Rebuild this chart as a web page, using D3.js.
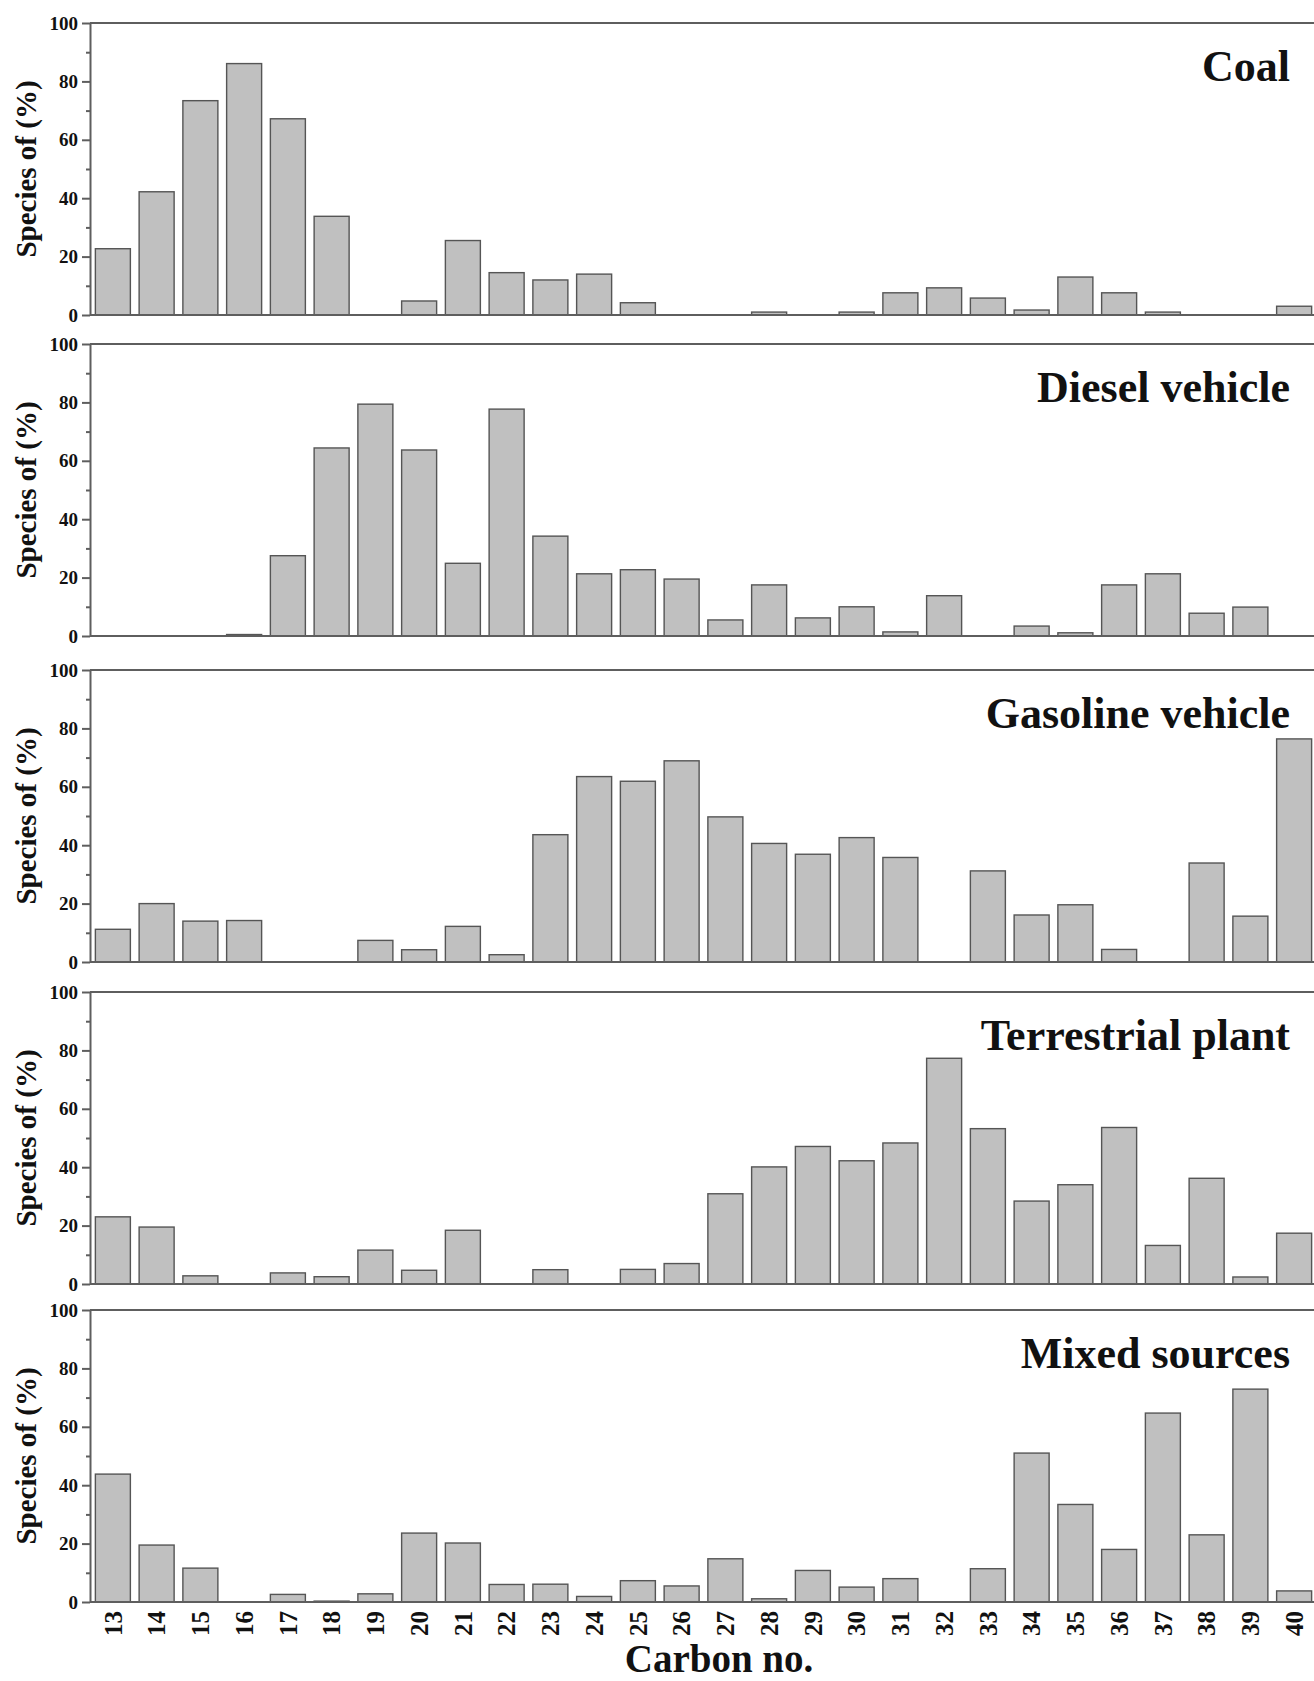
<!DOCTYPE html>
<html>
<head>
<meta charset="utf-8">
<script src="https://cdn.jsdelivr.net/npm/d3@7"></script>
<style>
  body { margin: 0; background: #fff; }
  svg text { font-family: "Liberation Serif", "Times New Roman", serif; font-weight: bold; fill: #111; }
</style>
</head>
<body>
<svg width="1314" height="1681"></svg>
<script>
const carbons = ['13', '14', '15', '16', '17', '18', '19', '20', '21', '22', '23', '24', '25', '26',
    '27', '28', '29', '30', '31', '32', '33', '34', '35', '36', '37', '38', '39', '40'];

const sources = ['Coal', 'Diesel vehicle', 'Gasoline vehicle', 'Terrestrial plant', 'Mixed sources'];

const coal = [22.7, 42.2, 73.4, 86.1, 67.2, 33.8, 0, 4.8, 25.5, 14.5, 12.0, 14.0, 4.2, 0,
    0, 1.0, 0, 1.0, 7.6, 9.3, 5.8, 1.7, 13.0, 7.6, 1.0, 0, 0, 3.0];
const diesel = [0, 0, 0, 0.5, 27.5, 64.4, 79.4, 63.7, 24.9, 77.7, 34.2, 21.3, 22.7, 19.5,
    5.5, 17.5, 6.2, 10.0, 1.4, 13.8, 0, 3.4, 1.1, 17.5, 21.3, 7.8, 9.9, 0];
const gasoline = [11.2, 20.0, 14.0, 14.2, 0, 0, 7.4, 4.2, 12.2, 2.5, 43.6, 63.5, 61.9, 68.9,
    49.7, 40.6, 36.9, 42.6, 35.8, 0, 31.2, 16.1, 19.6, 4.3, 0, 33.9, 15.7, 76.4];
const terrestrial = [23.0, 19.5, 2.8, 0, 3.8, 2.5, 11.6, 4.7, 18.4, 0, 4.9, 0, 5.0, 7.0,
    30.9, 40.1, 47.1, 42.2, 48.3, 77.3, 53.2, 28.4, 34.0, 53.6, 13.2, 36.2, 2.4, 17.4];
const mixed = [43.8, 19.5, 11.6, 0, 2.6, 0.3, 2.8, 23.6, 20.2, 6.0, 6.1, 1.9, 7.3, 5.5,
    14.8, 1.1, 10.8, 5.1, 8.0, 0, 11.4, 51.0, 33.4, 18.0, 64.7, 23.0, 72.9, 3.8];

const seriesValues = [coal, diesel, gasoline, terrestrial, mixed];

const yTicks = [0, 20, 40, 60, 80, 100];
const yMinorTicks = [10, 30, 50, 70, 90];

const width = 1314;
const left = 90;
const panelTops = [23, 344, 670, 992, 1310];
const panelHeight = 292;
const axisColor = '#5e5e5e';

const svg = d3.select('body svg');

const x = d3.scaleBand()
    .domain(carbons)
    .range([left + 1, 1316])
    .paddingInner(0.2)
    .paddingOuter(0.1);

const y = d3.scaleLinear()
    .domain([0, 100])
    .range([panelHeight, 0]);

sources.forEach(function(name, i) {
    const g = svg.append('g')
        .attr('transform', `translate(0, ${panelTops[i]})`);

    const data = carbons.map(function(c, j) { return { c: c, v: seriesValues[i][j] }; })
        .filter(function(d) { return d.v > 0; });

    g.selectAll('rect.bar')
        .data(data)
        .enter().append('rect')
        .attr('class', 'bar')
        .attr('x', function(d) { return x(d.c); })
        .attr('y', function(d) { return y(d.v); })
        .attr('width', x.bandwidth())
        .attr('height', function(d) { return panelHeight - y(d.v); })
        .attr('fill', '#c0c0c0')
        .attr('stroke', '#555')
        .attr('stroke-width', 1.4);

    // top frame line
    g.append('line')
        .attr('x1', left).attr('x2', width)
        .attr('y1', y(100)).attr('y2', y(100))
        .attr('stroke', axisColor)
        .attr('stroke-width', 2);

    // bottom axis (labels only on the last panel)
    const xAxis = g.append('g')
        .attr('transform', `translate(0, ${panelHeight})`)
        .call(d3.axisBottom(x).tickSize(0).tickSizeOuter(0));

    xAxis.select('.domain')
        .attr('d', `M${left},0H${width}`)
        .attr('stroke', axisColor)
        .attr('stroke-width', 2);

    if (i === sources.length - 1) {
        xAxis.selectAll('text')
            .attr('transform', 'rotate(-90)')
            .attr('x', -9)
            .attr('y', 0)
            .attr('dy', '0.35em')
            .attr('text-anchor', 'end')
            .attr('font-size', 25);
    } else {
        xAxis.selectAll('text').remove();
    }

    // left axis
    const yAxis = g.append('g')
        .attr('transform', `translate(${left}, 0)`)
        .call(d3.axisLeft(y).tickValues(yTicks).tickSize(8).tickSizeOuter(0).tickPadding(4));

    yAxis.selectAll('path, line')
        .attr('stroke', axisColor)
        .attr('stroke-width', 2);
    yAxis.selectAll('text')
        .attr('font-size', 19);

    const yMinor = g.append('g')
        .attr('transform', `translate(${left}, 0)`)
        .call(d3.axisLeft(y).tickValues(yMinorTicks).tickSize(4).tickFormat(''));
    yMinor.select('.domain').remove();
    yMinor.selectAll('line')
        .attr('stroke', axisColor)
        .attr('stroke-width', 2);

    g.append('text')
        .attr('transform', `translate(36, ${panelHeight / 2}) rotate(-90)`)
        .attr('text-anchor', 'middle')
        .attr('font-size', 29)
        .text('Species of (%)');

    g.append('text')
        .attr('x', 1290)
        .attr('y', 58)
        .attr('text-anchor', 'end')
        .attr('font-size', 44)
        .text(name);
});

svg.append('text')
    .attr('x', 719)
    .attr('y', 1672)
    .attr('text-anchor', 'middle')
    .attr('font-size', 39)
    .text('Carbon no.');
</script>
</body>
</html>
